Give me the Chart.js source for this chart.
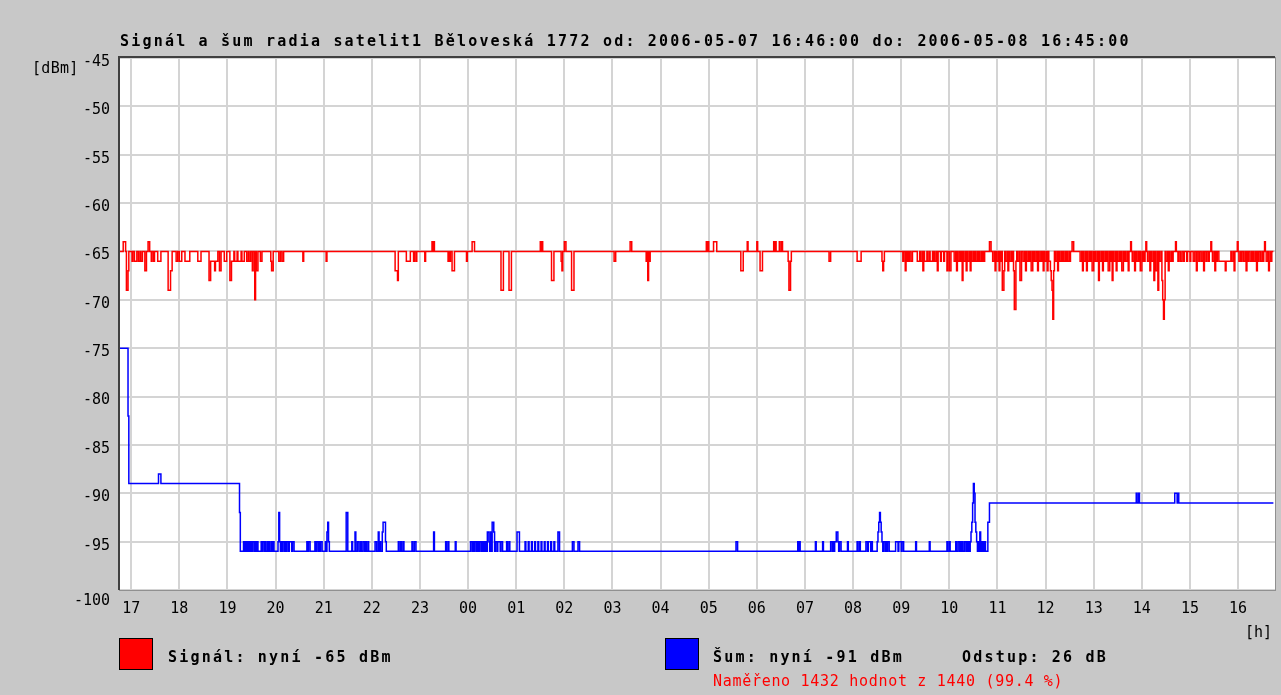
<!DOCTYPE html>
<html>
<head>
<meta charset="utf-8">
<script src="https://cdn.jsdelivr.net/npm/chart.js@4.4.0/dist/chart.umd.min.js"></script>
<style>
html, body { margin: 0; padding: 0; background: #c8c8c8; }
#wrap { position: relative; width: 1281px; height: 695px; overflow: hidden; }
canvas { position: absolute; left: 0; top: 0; }
.t { position: absolute; font-family: "DejaVu Sans Mono", monospace; font-size: 15px; line-height: 18px; white-space: nowrap; color: #000; }
.b { font-weight: bold; letter-spacing: 2.2px; }
.sw { position: absolute; width: 32px; height: 30px; border: 1px solid #000; }
</style>
</head>
<body>
<div id="wrap">
  <canvas id="graf" width="1281" height="695"></canvas>
  <div class="t b" style="left:120px; top:32px;">Signál a šum radia satelit1 Běloveská 1772 od: 2006-05-07 16:46:00 do: 2006-05-08 16:45:00</div>
  <div class="t" style="left:32px; top:59px; letter-spacing:0.3px;">[dBm]</div>
  <div class="t" style="left:1245px; top:623px;">[h]</div>
  <div class="sw" style="left:119px; top:638px; background:#ff0000;"></div>
  <div class="t b" style="left:168px; top:648px;">Signál: nyní -65 dBm</div>
  <div class="sw" style="left:665px; top:638px; background:#0000ff;"></div>
  <div class="t b" style="left:713px; top:648px;">Šum: nyní -91 dBm</div>
  <div class="t b" style="left:962px; top:648px;">Odstup: 26 dB</div>
  <div class="t" style="left:713px; top:672px; color:#ff0000; letter-spacing:0.7px;">Naměřeno 1432 hodnot z 1440 (99.4 %)</div>
</div>
<script>
// osa x = minuty od 16:46 (2006-05-07), jedna hodnota za minutu
var hodiny = ["17", "18", "19", "20", "21", "22", "23", "00", "01", "02", "03", "04",
              "05", "06", "07", "08", "09", "10", "11", "12", "13", "14", "15", "16"];
var prvniHodina = 14;   // 17:00 = 14 minut po zacatku
var posledniMinuta = 1437;
var rozsahY = [-100, -45];

// signal: zakladni uroven a odchylky [zacatek, delka, hodnota]
var signalUrovne = [[0, -65]];
var signalOdchylky = [
  [4,3,-64],[8,2,-69],[10,1,-67],[15,1,-66],[18,3,-66],[23,2,-66],[26,2,-66],[31,2,-67],[35,2,-64],
  [39,1,-66],[42,1,-66],[47,4,-66],[60,3,-69],[63,2,-67],[70,2,-66],[74,3,-66],[81,6,-66],[97,4,-66],
  [111,2,-68],[113,5,-66],[118,1,-67],[119,3,-66],[124,2,-67],[130,3,-66],[137,2,-68],[139,3,-66],
  [143,3,-66],[147,4,-66],[152,3,-66],[158,2,-66],[161,2,-66],[165,1,-67],[168,1,-70],[170,2,-67],
  [175,2,-66],[188,1,-66],[189,2,-67],[198,2,-66],[202,2,-66],[228,1,-66],[257,1,-66],
  [343,3,-67],[346,1,-68],[357,5,-66],[366,1,-66],[369,1,-66],[380,1,-66],[389,1,-64],[391,1,-64],
  [409,1,-66],[411,1,-66],[414,3,-67],[432,1,-66],[439,3,-64],[475,3,-69],[485,3,-69],[524,1,-64],
  [526,1,-64],[538,3,-68],[550,1,-66],[551,1,-67],[554,2,-64],[563,3,-69],
  [616,2,-66],[636,2,-64],[656,1,-66],[658,1,-68],[660,1,-66],[731,1,-64],[733,1,-64],[740,4,-64],
  [774,3,-67],[782,1,-64],[794,1,-64],[798,3,-67],[815,1,-64],[817,1,-64],[822,1,-64],[825,1,-64],
  [833,1,-66],[834,2,-69],[836,1,-66],[884,2,-66],
  [919,5,-66],[950,1,-66],[951,1,-67],[952,1,-66],[976,1,-66],[979,1,-67],[981,1,-66],[983,1,-66],
  [986,2,-66],[994,3,-66],[998,2,-66],[1001,1,-67],[1003,3,-66],[1007,2,-66],[1010,3,-66],[1014,1,-66],
  [1016,2,-66],[1019,1,-67],[1023,1,-66],[1027,1,-66],[1031,1,-67],[1034,2,-67],[1040,2,-66],[1043,1,-67],
  [1045,2,-66],[1048,1,-66],[1050,1,-68],[1052,2,-66],[1055,1,-67],[1057,2,-66],[1060,1,-67],[1062,2,-66],
  [1065,1,-66],[1067,2,-66],[1070,1,-66],[1072,2,-66],[1075,1,-66],[1077,1,-66],[1084,2,-64],
  [1088,2,-66],[1091,1,-67],[1093,2,-66],[1096,1,-67],[1098,1,-66],[1100,2,-69],[1102,1,-67],[1104,2,-66],
  [1107,1,-67],[1109,2,-66],[1112,1,-66],[1114,1,-67],[1115,2,-71],[1117,1,-66],[1119,2,-66],[1122,2,-68],
  [1126,2,-66],[1129,1,-67],[1131,2,-66],[1134,1,-66],[1136,2,-67],[1139,1,-66],[1141,2,-66],[1144,1,-67],
  [1146,2,-66],[1149,1,-66],[1151,1,-67],[1153,2,-66],[1156,1,-67],[1158,2,-66],[1160,1,-67],[1161,1,-68],
  [1162,1,-69],[1163,1,-72],[1164,1,-67],[1166,2,-66],[1169,1,-67],[1171,2,-66],[1174,1,-66],[1176,2,-66],
  [1179,1,-66],[1181,2,-66],[1184,1,-66],[1187,2,-64],
  [1197,2,-66],[1200,1,-67],[1202,2,-66],[1205,1,-67],[1207,2,-66],[1210,1,-66],[1212,2,-67],[1215,1,-66],
  [1217,2,-66],[1220,1,-68],[1222,2,-66],[1225,1,-67],[1227,2,-66],[1230,1,-66],[1232,2,-67],[1235,1,-66],
  [1237,1,-68],[1239,2,-66],[1242,1,-67],[1244,2,-66],[1247,1,-66],[1249,2,-67],[1252,1,-66],[1254,2,-66],
  [1257,1,-67],[1260,1,-64],[1262,2,-66],[1265,1,-67],[1267,2,-66],[1270,1,-66],[1272,2,-67],[1275,1,-66],
  [1277,1,-66],[1279,1,-64],[1281,2,-66],[1284,1,-67],[1286,2,-66],[1289,1,-68],[1291,2,-67],[1294,1,-69],
  [1296,2,-66],[1299,1,-68],[1300,1,-70],[1301,1,-72],[1302,1,-70],[1304,2,-66],[1307,1,-67],[1309,2,-66],
  [1312,1,-66],[1316,1,-64],[1319,1,-66],[1322,2,-66],[1326,1,-66],[1330,1,-66],[1334,1,-66],[1338,2,-66],
  [1342,1,-67],[1345,1,-66],[1348,2,-66],[1351,1,-67],[1354,1,-66],[1357,1,-66],[1360,1,-64],[1362,2,-66],
  [1365,1,-67],[1367,1,-66],[1370,8,-66],[1378,1,-67],[1379,6,-66],[1386,2,-66],[1389,1,-67],[1393,1,-64],
  [1395,2,-66],[1398,1,-66],[1401,2,-66],[1404,1,-67],[1406,1,-66],[1409,2,-66],[1412,1,-66],[1414,2,-66],
  [1417,1,-67],[1419,1,-66],[1422,2,-66],[1425,1,-66],[1427,1,-64],[1429,2,-66],[1432,1,-67],[1433,1,-66],
  [1435,1,-66]
];

// sum: zmeny zakladni urovne [od minuty, hodnota] a odchylky
var sumUrovne = [[0, -75], [10, -82], [11, -89], [149, -92], [150, -96], [1082, -93], [1084, -91]];
var sumOdchylky = [
  [48,3,-88],
  [154,1,-95],[156,1,-95],[158,1,-95],[160,1,-95],[162,1,-95],[164,1,-95],[166,2,-95],[169,1,-95],[171,1,-95],
  [176,1,-95],[178,2,-95],[181,1,-95],[184,1,-95],[186,1,-95],[189,1,-95],[191,1,-95],[197,1,-95],[198,1,-92],
  [199,1,-95],[201,1,-95],[203,2,-95],[206,1,-95],[208,2,-95],[211,3,-95],[215,2,-95],[233,1,-95],[235,2,-95],
  [243,1,-95],[245,2,-95],[248,1,-95],[250,2,-95],[256,1,-95],[258,1,-94],[259,1,-93],[260,1,-95],[282,2,-92],
  [289,1,-95],[293,1,-94],[296,2,-95],[300,1,-95],[303,2,-95],[306,1,-95],[309,1,-95],[318,2,-95],[322,1,-94],
  [324,1,-95],[327,1,-94],[328,3,-93],[331,1,-95],[347,1,-95],[350,1,-95],[353,1,-95],[364,1,-95],[367,1,-95],
  [368,1,-95],[391,1,-94],[406,1,-95],[409,1,-95],[418,1,-95],[437,2,-95],[440,1,-95],[442,2,-95],[445,1,-95],
  [447,1,-95],[449,2,-95],[452,1,-95],[454,1,-95],[456,1,-95],[458,2,-94],[460,1,-95],[462,1,-94],[464,2,-93],
  [466,1,-94],[468,2,-95],[471,3,-95],[475,2,-95],[482,1,-95],[485,1,-95],[495,3,-94],[505,1,-95],[509,1,-95],
  [513,1,-95],[517,1,-95],[521,1,-95],[525,1,-95],[529,1,-95],[533,1,-95],[537,1,-95],[541,1,-95],[546,2,-94],
  [564,2,-95],[571,2,-95],
  [768,2,-95],[845,1,-95],[847,1,-95],[867,1,-95],[876,1,-95],[886,2,-95],[889,1,-95],[891,2,-95],[893,2,-94],
  [895,1,-95],[897,2,-95],[907,1,-95],[919,1,-95],[922,1,-95],[930,2,-95],[933,3,-95],[937,1,-95],[944,1,-95],
  [945,1,-94],[946,1,-93],[947,1,-92],[948,1,-93],[949,1,-94],[950,1,-95],[952,2,-95],[955,1,-95],[957,2,-95],
  [967,3,-95],[971,3,-95],[975,2,-95],[992,1,-95],[1009,1,-95],[1031,1,-95],[1034,1,-95],[1042,1,-95],
  [1045,2,-95],[1048,1,-95],[1050,1,-95],[1053,2,-95],[1056,1,-95],[1058,1,-95],[1060,1,-95],[1061,1,-94],
  [1062,1,-93],[1063,1,-91],[1064,1,-89],[1065,1,-90],[1066,1,-93],[1067,1,-94],[1068,1,-95],[1070,1,-95],
  [1072,1,-94],[1074,1,-95],[1076,1,-95],[1078,1,-95],
  [1267,1,-90],[1270,1,-90],[1315,3,-90],[1319,1,-90]
];

// z urovni a odchylek udela body pro schodovou caru (jen mista zmen)
function rada(urovne, odchylky, konec) {
  var hodnoty = [];
  var u = 0;
  for (var m = 0; m <= konec; m++) {
    while (u + 1 < urovne.length && urovne[u + 1][0] <= m) u++;
    hodnoty.push(urovne[u][1]);
  }
  odchylky.forEach(function (o) {
    for (var k = 0; k < o[1]; k++) {
      if (o[0] + k <= konec) hodnoty[o[0] + k] = o[2];
    }
  });
  var body = [];
  for (var i = 0; i <= konec; i++) {
    if (i === 0 || hodnoty[i] !== hodnoty[i - 1]) body.push({ x: i, y: hodnoty[i] });
  }
  body.push({ x: konec + 1, y: hodnoty[konec] });
  return body;
}

var signalBody = rada(signalUrovne, signalOdchylky, posledniMinuta);
var sumBody = rada(sumUrovne, sumOdchylky, posledniMinuta);

var pismo = { family: "'DejaVu Sans Mono', monospace", size: 15, lineHeight: 1 };

var ramecek = {
  id: "ramecek",
  beforeDraw: function (chart) {
    var a = chart.chartArea, c = chart.ctx;
    c.save();
    c.fillStyle = "#ffffff";
    c.fillRect(a.left, a.top, a.right - a.left, a.bottom - a.top);
    c.restore();
  },
  afterDraw: function (chart) {
    var a = chart.chartArea, c = chart.ctx;
    c.save();
    c.strokeStyle = "#909090";
    c.lineWidth = 1;
    c.strokeRect(a.left - 0.5, a.top - 0.5, a.right - a.left + 1, a.bottom - a.top + 1);
    c.strokeStyle = "#404040";
    c.lineWidth = 2;
    c.beginPath();
    c.moveTo(a.left - 1, a.bottom);
    c.lineTo(a.left - 1, a.top - 1);
    c.lineTo(a.right, a.top - 1);
    c.stroke();
    c.restore();
  }
};

var ctx = document.getElementById("graf").getContext("2d");
var graf = new Chart(ctx, {
  type: "line",
  data: {
    datasets: [
      {
        label: "Signál",
        data: signalBody,
        borderColor: "#ff0000",
        borderWidth: 1.5,
        stepped: true,
        pointRadius: 0,
        fill: false
      },
      {
        label: "Šum",
        data: sumBody,
        borderColor: "#0000ff",
        borderWidth: 1.5,
        stepped: true,
        pointRadius: 0,
        fill: false
      }
    ]
  },
  options: {
    responsive: false,
    animation: false,
    layout: { padding: { left: 0, top: 58, right: 6, bottom: 65 } },
    plugins: {
      legend: { display: false },
      tooltip: { enabled: false }
    },
    scales: {
      x: {
        type: "linear",
        min: 0,
        max: 1440,
        afterBuildTicks: function (scale) {
          scale.ticks = hodiny.map(function (h, i) { return { value: prvniHodina + i * 60 }; });
        },
        afterFit: function (scale) { scale.height = 40; },
        ticks: {
          autoSkip: false,
          maxRotation: 0,
          padding: 12,
          color: "#000",
          font: pismo,
          callback: function (v, i) { return hodiny[i]; }
        },
        grid: { color: "#d4d4d4", lineWidth: 2, drawTicks: false },
        border: { display: false }
      },
      y: {
        min: rozsahY[0],
        max: rozsahY[1],
        afterFit: function (scale) { scale.width = 120; },
        ticks: {
          stepSize: 5,
          padding: 10,
          labelOffset: 4,
          color: "#000",
          font: pismo,
          // spodni popisek je v originale posunuty dolu pod caru
          callback: function (v) { return v === rozsahY[0] ? ["", String(v)] : String(v); }
        },
        grid: { color: "#d4d4d4", lineWidth: 2, drawTicks: false },
        border: { display: false }
      }
    }
  },
  plugins: [ramecek]
});
</script>
</body>
</html>
